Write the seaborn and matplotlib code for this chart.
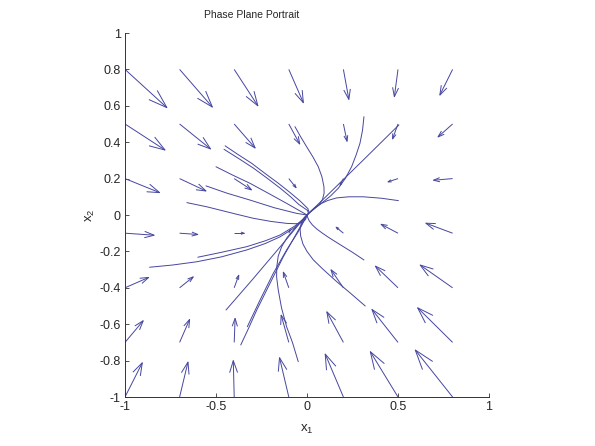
import numpy as np
import pandas as pd
import seaborn as sns
import matplotlib
matplotlib.use("Agg")
import matplotlib.pyplot as plt
from matplotlib.collections import LineCollection

# **Grid of the direction field**
x1_grid = [-1, -0.7, -0.4, -0.1, 0.2, 0.5, 0.8]
x2_grid = [0.8, 0.5, 0.2, -0.1, -0.4, -0.7, -1]   # rows, top to bottom

# arrow components (rows follow x2_grid)
U = [[0.23, 0.18, 0.13, 0.08, 0.03, -0.02, -0.07],
     [0.22, 0.17, 0.115, 0.06, 0.02, -0.03, -0.08],
     [0.19, 0.145, 0.095, 0.04, -0.018, -0.055, -0.105],
     [0.16, 0.10, 0.055, 0.009, -0.04, -0.093, -0.147],
     [0.13, 0.075, 0.025, -0.03, -0.068, -0.124, -0.178],
     [0.10, 0.055, 0.005, -0.042, -0.091, -0.143, -0.192],
     [0.095, 0.046, -0.005, -0.051, -0.10, -0.152, -0.205]]
V = [[-0.21, -0.207, -0.20, -0.183, -0.165, -0.15, -0.141],
     [-0.143, -0.137, -0.132, -0.11, -0.095, -0.082, -0.071],
     [-0.077, -0.068, -0.062, -0.05, -0.037, -0.018, -0.009],
     [-0.011, -0.007, 0.0, 0.018, 0.033, 0.049, 0.055],
     [0.057, 0.06, 0.069, 0.086, 0.099, 0.119, 0.125],
     [0.119, 0.126, 0.132, 0.15, 0.168, 0.181, 0.19],
     [0.188, 0.192, 0.20, 0.216, 0.236, 0.249, 0.258]]

# **Trajectories (x1, x2)**
trajectories = [
    [(-0.45, 0.38), (-0.38, 0.333), (-0.304, 0.284), (-0.23, 0.228), (-0.157, 0.174),
     (-0.095, 0.125), (-0.038, 0.077), (0.005, 0.035), (0.012, 0.012), (0, 0)],
    [(-0.456, 0.361), (-0.375, 0.31), (-0.295, 0.258), (-0.22, 0.203), (-0.148, 0.148),
     (-0.09, 0.1), (-0.045, 0.058), (0.003, 0.025), (0.008, 0.008), (0, 0)],
    [(-0.50, 0.265), (-0.41, 0.22), (-0.313, 0.174), (-0.21, 0.118), (-0.112, 0.064),
     (-0.038, 0.022), (0, 0)],
    [(-0.555, 0.16), (-0.44, 0.12), (-0.313, 0.082), (-0.18, 0.04), (-0.057, 0.009), (0, 0)],
    [(-0.66, 0.068), (-0.55, 0.045), (-0.478, 0.027), (-0.39, 0.005), (-0.295, -0.018),
     (-0.2, -0.035), (-0.112, -0.046), (-0.06, -0.048), (-0.029, -0.042), (-0.008, -0.025), (0, 0)],
    [(-0.865, -0.287), (-0.74, -0.275), (-0.606, -0.257), (-0.47, -0.23), (-0.331, -0.192),
     (-0.23, -0.157), (-0.148, -0.12), (-0.066, -0.068), (-0.02, -0.025), (0, 0)],
    [(-0.60, -0.232), (-0.47, -0.205), (-0.331, -0.174), (-0.23, -0.142), (-0.148, -0.11),
     (-0.066, -0.06), (-0.02, -0.022), (0, 0)],
    [(-0.445, -0.522), (-0.3, -0.355), (-0.15, -0.178), (-0.05, -0.058), (0, 0)],
    [(-0.364, -0.714), (-0.32, -0.62), (-0.276, -0.522), (-0.203, -0.375), (-0.13, -0.229),
     (-0.057, -0.1), (-0.015, -0.025), (0, 0)],
    [(-0.328, -0.614), (-0.258, -0.467), (-0.185, -0.32), (-0.112, -0.192), (-0.048, -0.092),
     (-0.012, -0.025), (0, 0)],
    [(-0.048, -0.806), (-0.08, -0.7), (-0.112, -0.614), (-0.14, -0.51), (-0.158, -0.412),
     (-0.167, -0.34), (-0.166, -0.284), (-0.158, -0.225), (-0.139, -0.174), (-0.11, -0.125),
     (-0.075, -0.082), (-0.045, -0.048), (-0.02, -0.02), (0, 0)],
    [(0.313, -0.247), (0.25, -0.205), (0.2, -0.174), (0.155, -0.146), (0.12, -0.124),
     (0.085, -0.1), (0.055, -0.078), (0.03, -0.055), (0.012, -0.032), (0.004, -0.014), (0, 0)],
    [(0.32, -0.5), (0.245, -0.435), (0.163, -0.366), (0.09, -0.3), (0.035, -0.247),
     (0.0, -0.2), (-0.022, -0.16), (-0.035, -0.115), (-0.038, -0.075), (-0.03, -0.04),
     (-0.015, -0.015), (0, 0)],
    [(0.505, 0.495), (0.3, 0.293), (0.1, 0.097), (0, 0)],
    [(0.313, 0.54), (0.305, 0.465), (0.291, 0.394), (0.27, 0.33), (0.245, 0.265),
     (0.21, 0.2), (0.172, 0.147), (0.13, 0.105), (0.09, 0.073), (0.05, 0.042),
     (0.016, 0.014), (0, 0)],
    [(-0.066, 0.485), (-0.035, 0.43), (-0.002, 0.375), (0.032, 0.32), (0.062, 0.265),
     (0.082, 0.21), (0.093, 0.156), (0.094, 0.12), (0.085, 0.085), (0.065, 0.055),
     (0.04, 0.035), (0.018, 0.017), (0, 0)],
    [(0.502, 0.079), (0.41, 0.092), (0.31, 0.1), (0.23, 0.1), (0.163, 0.094),
     (0.115, 0.08), (0.08, 0.064), (0.045, 0.042), (0.018, 0.018), (0, 0)],
]

x_ticks = [-1, -0.5, 0, 0.5, 1]
x_ticklabels = ['-1', '-0.5', '0', '0.5', '1']
y_ticks = [-1, -0.8, -0.6, -0.4, -0.2, 0, 0.2, 0.4, 0.6, 0.8, 1]
y_ticklabels = ['-1', '-0.8', '-0.6', '-0.4', '-0.2', '0', '0.2', '0.4', '0.6', '0.8', '1']

line_color = '#4646a0'

# **Style**
sns.set_style('ticks', {'xtick.direction': 'in', 'ytick.direction': 'in'})
plt.rcParams['font.family'] = ['Liberation Sans', 'DejaVu Sans']
plt.rcParams['mathtext.default'] = 'regular'

fig = plt.figure(figsize=(5.95, 4.46), dpi=100)
ax = fig.add_axes([125 / 595, 1 - 397 / 446, 364 / 595, 364 / 446])

# **Trajectories**
rows = []
for k, tr in enumerate(trajectories):
    for i, (a, b) in enumerate(tr):
        rows.append({'traj': k, 'order': i, 'x1': a, 'x2': b})
df = pd.DataFrame(rows)
sns.lineplot(data=df, x='x1', y='x2', units='traj', estimator=None, sort=False,
             color=line_color, linewidth=0.7, ax=ax)

# **Direction field, MATLAB style open arrows**
X, Y = np.meshgrid(x1_grid, x2_grid)
Ua, Va = np.array(U), np.array(V)
alpha = beta = 0.33
segs = []
for x, y, u, v in zip(X.ravel(), Y.ravel(), Ua.ravel(), Va.ravel()):
    tx, ty = x + u, y + v
    segs.append([(x, y), (tx, ty)])
    segs.append([(tx - alpha * (u + beta * v), ty - alpha * (v - beta * u)), (tx, ty),
                 (tx - alpha * (u - beta * v), ty - alpha * (v + beta * u))])
ax.add_collection(LineCollection(segs, colors=line_color, linewidths=0.7))

# **Axes**
ax.set_xlim(-1, 1)
ax.set_ylim(-1, 1)
ax.set_xticks(x_ticks)
ax.set_xticklabels(x_ticklabels)
ax.set_yticks(y_ticks)
ax.set_yticklabels(y_ticklabels)
ax.tick_params(labelsize=9, length=3, width=0.6, color='#333333', pad=3)
sns.despine(ax=ax)
for s in ['left', 'bottom']:
    ax.spines[s].set_linewidth(0.7)
    ax.spines[s].set_color('#333333')
ax.set_xlabel('x$_1$', fontsize=9.5, labelpad=7)
ax.set_ylabel('x$_2$', fontsize=9.5, labelpad=2)
fig.text(252 / 595, 1 - 15 / 446, 'Phase Plane Portrait', ha='center', va='center', fontsize=7.5)

fig.savefig('out.png', dpi=100)
